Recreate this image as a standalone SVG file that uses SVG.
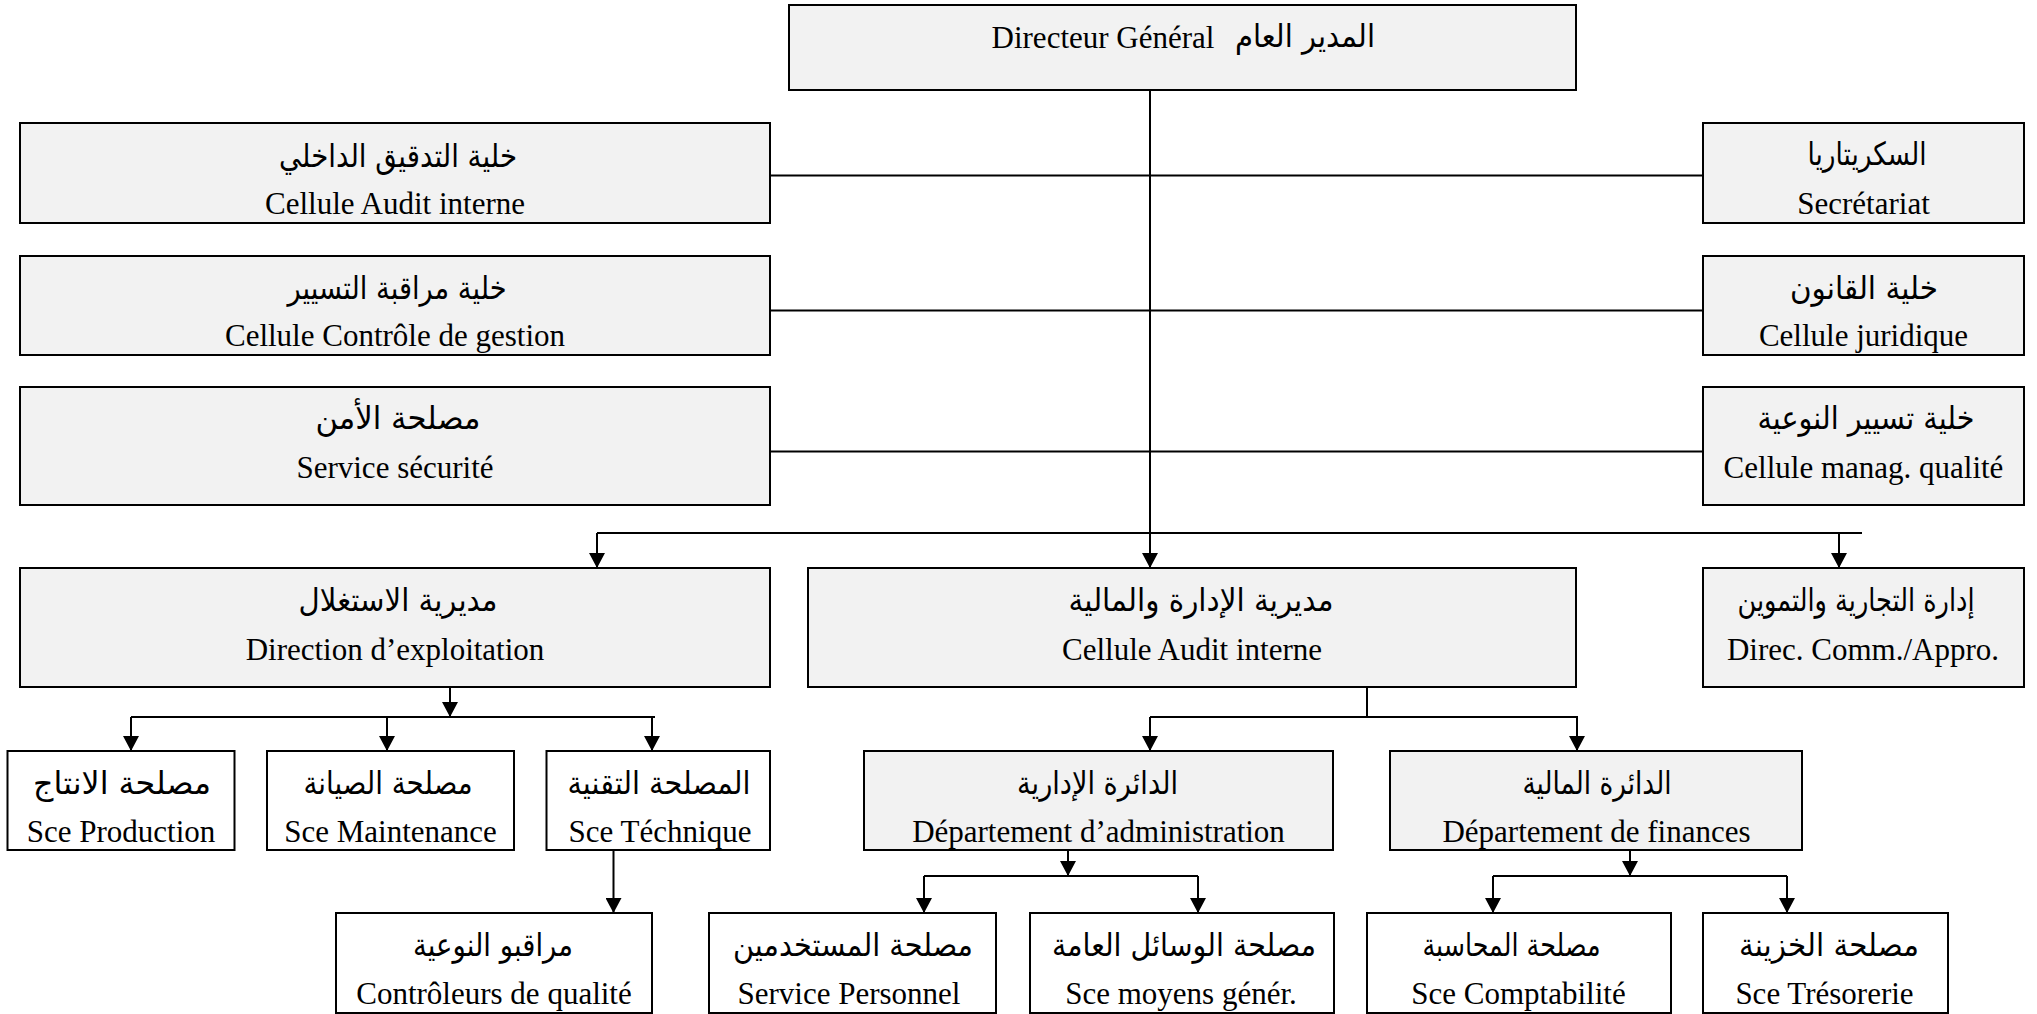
<svg xmlns="http://www.w3.org/2000/svg" width="2037" height="1014" viewBox="0 0 2037 1014">
  <style>
    .box { fill: #f2f2f2; stroke: #000; stroke-width: 2; }
    .wbox { fill: #fff; stroke: #000; stroke-width: 2; }
    .fr { font-family: "Liberation Serif", "Times New Roman", serif; font-size: 31px; text-anchor: middle; fill: #000; }
    .ar { font-family: "DejaVu Sans", sans-serif; font-size: 32px; text-anchor: middle; fill: #000; }
    .ln { stroke: #000; stroke-width: 2; fill: none; }
  </style>
  <defs>
    <marker id="arrow" viewBox="0 0 15 16" refX="15" refY="8" markerWidth="15" markerHeight="16" markerUnits="userSpaceOnUse" orient="auto">
      <path d="M0,0 L15,8 L0,16 z" fill="#000"/>
    </marker>
  </defs>
  <rect width="2037" height="1014" fill="#fff"/>

  <!-- connectors -->
  <g id="connectors">
    <path class="ln" d="M1150,90 V568" marker-end="url(#arrow)"/>
    <path class="ln" d="M770,175.5 H1703"/>
    <path class="ln" d="M770,310.5 H1703"/>
    <path class="ln" d="M770,451.5 H1703"/>
    <path class="ln" d="M597,533 H1862"/>
    <path class="ln" d="M597,533 V568" marker-end="url(#arrow)"/>
    <path class="ln" d="M1839,533 V568" marker-end="url(#arrow)"/>

    <path class="ln" d="M450,687 V717" marker-end="url(#arrow)"/>
    <path class="ln" d="M131,717 H655"/>
    <path class="ln" d="M131,717 V751" marker-end="url(#arrow)"/>
    <path class="ln" d="M387,717 V751" marker-end="url(#arrow)"/>
    <path class="ln" d="M652,717 V751" marker-end="url(#arrow)"/>
    <path class="ln" d="M613.5,850 V913" marker-end="url(#arrow)"/>

    <path class="ln" d="M1367,687 V717"/>
    <path class="ln" d="M1150,717 H1578"/>
    <path class="ln" d="M1150,717 V751" marker-end="url(#arrow)"/>
    <path class="ln" d="M1577,717 V751" marker-end="url(#arrow)"/>

    <path class="ln" d="M1068,850 V876" marker-end="url(#arrow)"/>
    <path class="ln" d="M924,876 H1198"/>
    <path class="ln" d="M924,876 V913" marker-end="url(#arrow)"/>
    <path class="ln" d="M1198,876 V913" marker-end="url(#arrow)"/>

    <path class="ln" d="M1630,850 V876" marker-end="url(#arrow)"/>
    <path class="ln" d="M1493,876 H1787"/>
    <path class="ln" d="M1493,876 V913" marker-end="url(#arrow)"/>
    <path class="ln" d="M1787,876 V913" marker-end="url(#arrow)"/>
  </g>

  <!-- top management -->
  <g id="dg">
    <rect class="box" x="789" y="5" width="787" height="85"/>
    <text class="fr" x="1103" y="48">Directeur Général</text>
    <text class="ar" x="1305" y="47" textLength="140" lengthAdjust="spacingAndGlyphs">المدير العام</text>
  </g>

  <!-- staff cells, left -->
  <g id="audit">
    <rect class="box" x="20" y="123" width="750" height="100"/>
    <text class="ar" x="398" y="167" textLength="238" lengthAdjust="spacingAndGlyphs">خلية التدقيق الداخلي</text>
    <text class="fr" x="395" y="214">Cellule Audit interne</text>
  </g>
  <g id="controle">
    <rect class="box" x="20" y="256" width="750" height="99"/>
    <text class="ar" x="397" y="299" textLength="219" lengthAdjust="spacingAndGlyphs">خلية مراقبة التسيير</text>
    <text class="fr" x="395" y="346">Cellule Contrôle de gestion</text>
  </g>
  <g id="securite">
    <rect class="box" x="20" y="387" width="750" height="118"/>
    <text class="ar" x="398" y="429" textLength="165" lengthAdjust="spacingAndGlyphs">مصلحة الأمن</text>
    <text class="fr" x="395" y="478">Service sécurité</text>
  </g>

  <!-- staff cells, right -->
  <g id="secretariat">
    <rect class="box" x="1703" y="123" width="321" height="100"/>
    <text class="ar" x="1867" y="165" textLength="119" lengthAdjust="spacingAndGlyphs">السكريتاريا</text>
    <text class="fr" x="1863.5" y="214">Secrétariat</text>
  </g>
  <g id="juridique">
    <rect class="box" x="1703" y="256" width="321" height="99"/>
    <text class="ar" x="1864" y="299" textLength="148" lengthAdjust="spacingAndGlyphs">خلية القانون</text>
    <text class="fr" x="1863.5" y="346">Cellule juridique</text>
  </g>
  <g id="qualite">
    <rect class="box" x="1703" y="387" width="321" height="118"/>
    <text class="ar" x="1866" y="429" textLength="217" lengthAdjust="spacingAndGlyphs">خلية تسيير النوعية</text>
    <text class="fr" x="1863.5" y="478">Cellule manag. qualité</text>
  </g>

  <!-- directorates -->
  <g id="exploitation">
    <rect class="box" x="20" y="568" width="750" height="119"/>
    <text class="ar" x="398" y="611" textLength="199" lengthAdjust="spacingAndGlyphs">مديرية الاستغلال</text>
    <text class="fr" x="395" y="660">Direction d’exploitation</text>
  </g>
  <g id="admin-finance">
    <rect class="box" x="808" y="568" width="768" height="119"/>
    <text class="ar" x="1201" y="611" textLength="265" lengthAdjust="spacingAndGlyphs">مديرية الإدارة والمالية</text>
    <text class="fr" x="1192" y="660">Cellule Audit interne</text>
  </g>
  <g id="commercial">
    <rect class="box" x="1703" y="568" width="321" height="119"/>
    <text class="ar" x="1856" y="611" textLength="237" lengthAdjust="spacingAndGlyphs">إدارة التجارية والتموين</text>
    <text class="fr" x="1863" y="660">Direc. Comm./Appro.</text>
  </g>

  <!-- operations services -->
  <g id="production">
    <rect class="wbox" x="7.5" y="751" width="227" height="99"/>
    <text class="ar" x="122" y="794" textLength="178" lengthAdjust="spacingAndGlyphs">مصلحة الانتاج</text>
    <text class="fr" x="121" y="842">Sce Production</text>
  </g>
  <g id="maintenance">
    <rect class="wbox" x="267" y="751" width="247" height="99"/>
    <text class="ar" x="388" y="794" textLength="169" lengthAdjust="spacingAndGlyphs">مصلحة الصيانة</text>
    <text class="fr" x="390.5" y="842">Sce Maintenance</text>
  </g>
  <g id="technique">
    <rect class="wbox" x="546.5" y="751" width="223.5" height="99"/>
    <text class="ar" x="659" y="794" textLength="183" lengthAdjust="spacingAndGlyphs">المصلحة التقنية</text>
    <text class="fr" x="660" y="842">Sce Téchnique</text>
  </g>
  <g id="controleurs">
    <rect class="wbox" x="336" y="913" width="316" height="100"/>
    <text class="ar" x="493" y="956" textLength="160" lengthAdjust="spacingAndGlyphs">مراقبو النوعية</text>
    <text class="fr" x="494" y="1004">Contrôleurs de qualité</text>
  </g>

  <!-- departments -->
  <g id="dept-admin">
    <rect class="box" x="864" y="751" width="469" height="99"/>
    <text class="ar" x="1097.5" y="794" textLength="161" lengthAdjust="spacingAndGlyphs">الدائرة الإدارية</text>
    <text class="fr" x="1098.5" y="842">Département d’administration</text>
  </g>
  <g id="dept-finance">
    <rect class="box" x="1390" y="751" width="412" height="99"/>
    <text class="ar" x="1597" y="794" textLength="149" lengthAdjust="spacingAndGlyphs">الدائرة المالية</text>
    <text class="fr" x="1596.5" y="842">Département de finances</text>
  </g>

  <!-- department services -->
  <g id="personnel">
    <rect class="wbox" x="709" y="913" width="287" height="100"/>
    <text class="ar" x="853" y="956" textLength="240" lengthAdjust="spacingAndGlyphs">مصلحة المستخدمين</text>
    <text class="fr" x="849" y="1004">Service Personnel</text>
  </g>
  <g id="moyens">
    <rect class="wbox" x="1030" y="913" width="304" height="100"/>
    <text class="ar" x="1184" y="956" textLength="264" lengthAdjust="spacingAndGlyphs">مصلحة الوسائل العامة</text>
    <text class="fr" x="1181" y="1004">Sce moyens génér.</text>
  </g>
  <g id="comptabilite">
    <rect class="wbox" x="1367" y="913" width="304" height="100"/>
    <text class="ar" x="1511.5" y="956" textLength="178" lengthAdjust="spacingAndGlyphs">مصلحة المحاسبة</text>
    <text class="fr" x="1518.5" y="1004">Sce Comptabilité</text>
  </g>
  <g id="tresorerie">
    <rect class="wbox" x="1703" y="913" width="245" height="100"/>
    <text class="ar" x="1829" y="956" textLength="180" lengthAdjust="spacingAndGlyphs">مصلحة الخزينة</text>
    <text class="fr" x="1824.5" y="1004">Sce Trésorerie</text>
  </g>
</svg>
